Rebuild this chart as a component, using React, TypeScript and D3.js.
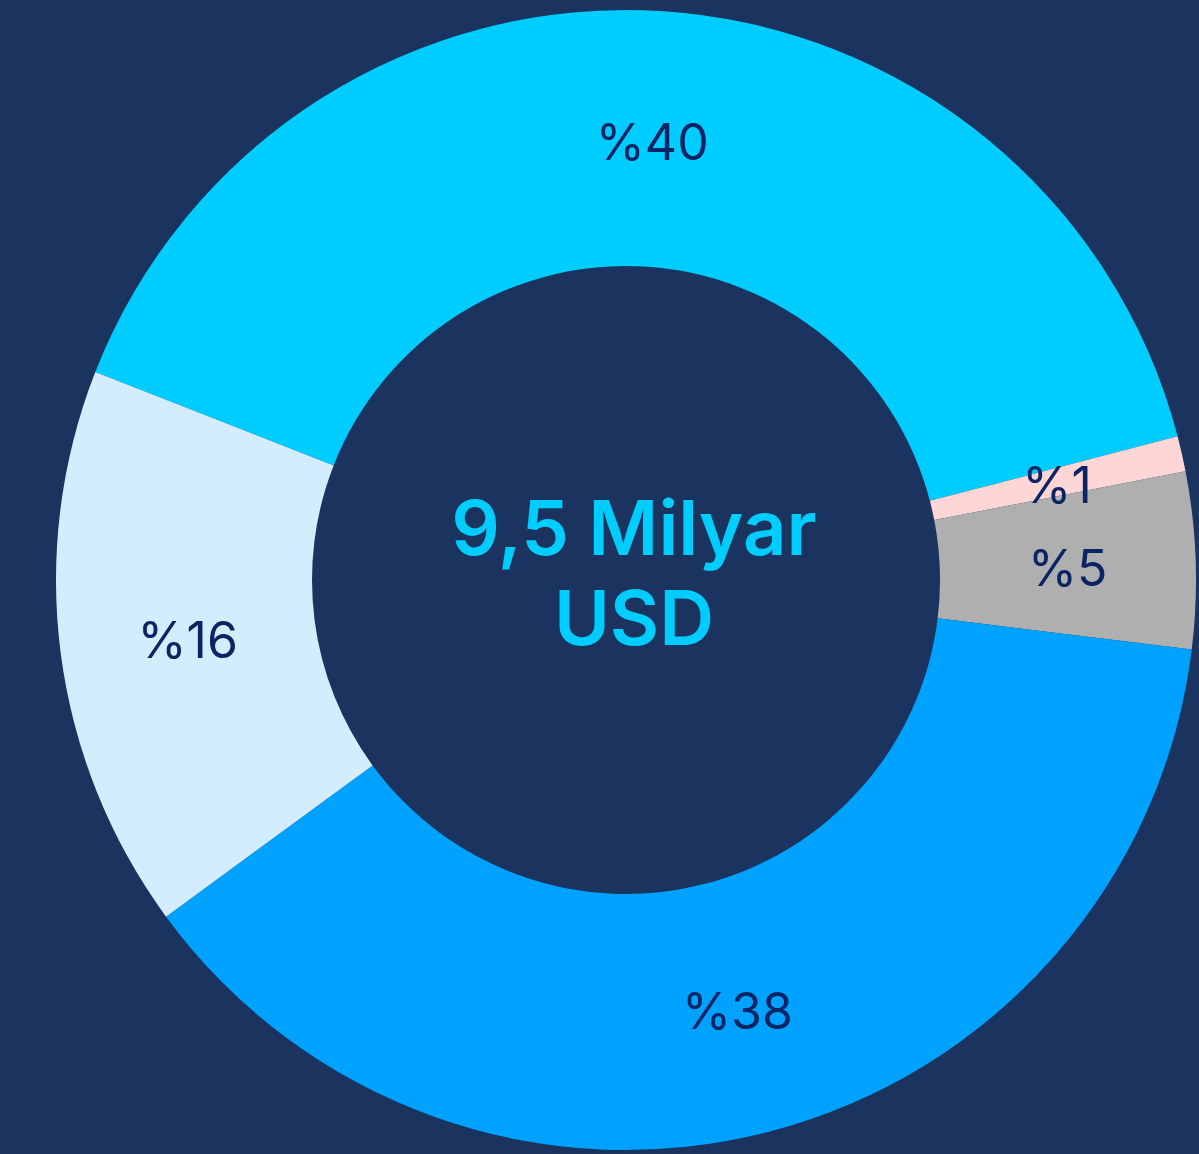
import React from "react";
import * as d3 from "d3";

const categories = ["A", "B", "C", "D", "E"];
const values = [40, 1, 5, 38, 16];
const labels = ["%40", "%1", "%5", "%38", "%16"];
const colors = ["#00cdff", "#ffd6d6", "#afafaf", "#00a2ff", "#d3edff"];
const centerLines = ["9,5 Milyar", "USD"];

const W = 1199;
const H = 1154;
const cx = 626;
const cy = 580;
const outerR = 570;
const innerR = 314;
const startDeg = -68.6;

export default function App() {
  const pie = d3
    .pie<number>()
    .sort(null)
    .value((d) => d)
    .startAngle((startDeg * Math.PI) / 180)
    .endAngle((startDeg * Math.PI) / 180 + 2 * Math.PI);
  const arcs = pie(values);
  const arc = d3.arc<d3.PieArcDatum<number>>().innerRadius(innerR).outerRadius(outerR);
  const labelArc = d3
    .arc<d3.PieArcDatum<number>>()
    .innerRadius(442)
    .outerRadius(442);

  return (
    <svg
      width={W}
      height={H}
      style={{ position: "absolute", left: 0, top: 0, display: "block" }}
    >
      <rect x={0} y={0} width={W} height={H} fill="#1b335f" />
      <g transform={`translate(${cx},${cy})`}>
        {arcs.map((a, i) => (
          <path key={categories[i]} d={arc(a) || ""} fill={colors[i]} />
        ))}
        {arcs.map((a, i) => {
          const [x, y] = labelArc.centroid(a);
          return (
            <text
              key={"l" + categories[i]}
              x={x}
              y={y + 3}
              textAnchor="middle"
              dominantBaseline="central"
              fill="#0b2463"
              fontFamily="Inter, 'Noto Sans', sans-serif"
              fontSize={50}
              fontWeight={400}
            >
              {labels[i]}
            </text>
          );
        })}
        {centerLines.map((t, i) => (
          <text
            key={"c" + i}
            x={8}
            y={-53 + i * 90}
            textAnchor="middle"
            dominantBaseline="central"
            fill="#00cdff"
            fontFamily="Inter, 'Noto Sans', sans-serif"
            fontSize={76}
            fontWeight={600}
          >
            {t}
          </text>
        ))}
      </g>
    </svg>
  );
}
